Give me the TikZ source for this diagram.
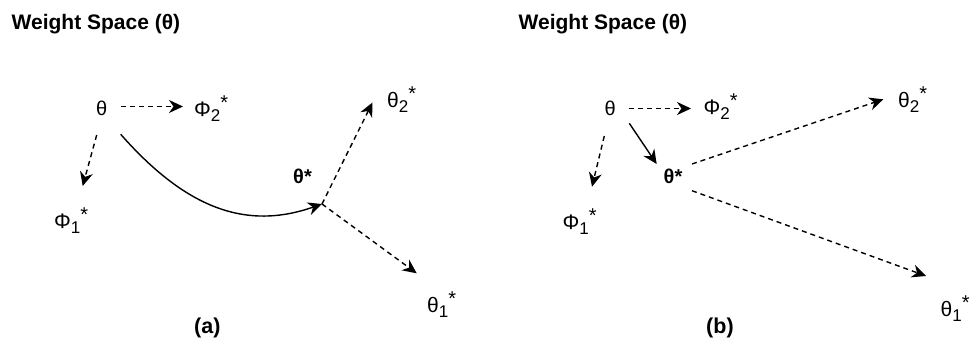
\documentclass[tikz,border=0pt]{standalone}
\usepackage{fontspec}
\setmainfont{Liberation Sans}
\usetikzlibrary{arrows.meta, positioning, calc}

% raised / lowered indices of the labels
\newcommand{\subidx}[1]{\raisebox{-5pt}{\fontsize{17}{17}\selectfont #1}}
\newcommand{\supstar}{\raisebox{7pt}{\fontsize{20}{20}\selectfont *}}

\begin{document}
\begin{tikzpicture}[x=1pt, y=-1pt,
  lbl/.style={anchor=base west, inner sep=0pt, font=\fontsize{21}{24}\selectfont},
  sym/.style={anchor=base west, inner sep=0pt, font=\fontsize{20}{22}\selectfont},
  opt/.style={anchor=base west, inner sep=0pt, font=\bfseries\fontsize{20}{22}\selectfont},
  panelhead/.style={anchor=base west, inner sep=0pt, font=\bfseries\fontsize{21}{24}\selectfont},
  subcap/.style={anchor=base west, inner sep=0pt, font=\bfseries\fontsize{21.5}{24}\selectfont},
  dasharrow/.style={line width=1.4pt, dash pattern=on 5pt off 4pt, -{Stealth[length=14pt, width=13pt, inset=4.5pt]}},
  fullarrow/.style={line width=1.4pt, -{Stealth[length=14pt, width=13pt, inset=4.5pt]}},
]
  \useasboundingbox (0,0) rectangle (972,345);

  % (a)
  \node[panelhead] (heada) at (11.5,30) {Weight Space (θ)};
  \node[sym] (ta)   at (96,115)  {θ};
  \node[lbl] (p2a)  at (194,117) {Φ\subidx{2}\supstar};
  \node[lbl] (p1a)  at (54,228)  {Φ\subidx{1}\supstar};
  \node[opt] (tsa)  at (293,183) {θ*};
  \node[lbl] (t2a)  at (387,107) {θ\subidx{2}\supstar};
  \node[lbl] (t1a)  at (427,312) {θ\subidx{1}\supstar};
  \node[subcap] (capa) at (194,333.5) {(a)};
  \coordinate (ja) at (322,204);

  \draw[dasharrow] ([shift={(25,-8.5)}]ta.base west) -- ([shift={(-11,-10.5)}]p2a.base west);
  \draw[dasharrow] ([shift={(0.7,20)}]ta.base west) -- ([shift={(28.7,-42)}]p1a.base west);
  \draw[fullarrow] ([shift={(24.7,19.3)}]ta.base west) .. controls (186.7,209.3) and (246.8,230.4) .. (ja);
  \draw[dasharrow] (ja) -- ([shift={(-14.5,-4.5)}]t2a.base west);
  \draw[dasharrow] (ja) -- ([shift={(-10.3,-38.7)}]t1a.base west);

  % (b)
  \node[panelhead] (headb) at (518.5,30) {Weight Space (θ)};
  \node[sym] (tb)   at (604.5,115) {θ};
  \node[lbl] (p2b)  at (703.5,114) {Φ\subidx{2}\supstar};
  \node[lbl] (p1b)  at (562.5,229.5) {Φ\subidx{1}\supstar};
  \node[opt] (tsb)  at (663.5,183) {θ*};
  \node[lbl] (t2b)  at (898,107) {θ\subidx{2}\supstar};
  \node[lbl] (t1b)  at (940.5,316.5) {θ\subidx{1}\supstar};
  \node[subcap] (capb) at (706,333) {(b)};

  \draw[dasharrow] ([shift={(24.2,-6.5)}]tb.base west) -- ([shift={(-12.5,-5.5)}]p2b.base west);
  \draw[dasharrow] ([shift={(-0.2,21)}]tb.base west) -- ([shift={(29.5,-42.8)}]p1b.base west);
  \draw[fullarrow] ([shift={(24.8,8.3)}]tb.base west) -- ([shift={(-6.8,-19)}]tsb.base west);
  \draw[dasharrow] ([shift={(28.5,-19)}]tsb.base west) -- ([shift={(-14.7,-7.7)}]t2b.base west);
  \draw[dasharrow] ([shift={(28.5,7.7)}]tsb.base west) -- ([shift={(-14.5,-40.5)}]t1b.base west);
\end{tikzpicture}
\end{document}
